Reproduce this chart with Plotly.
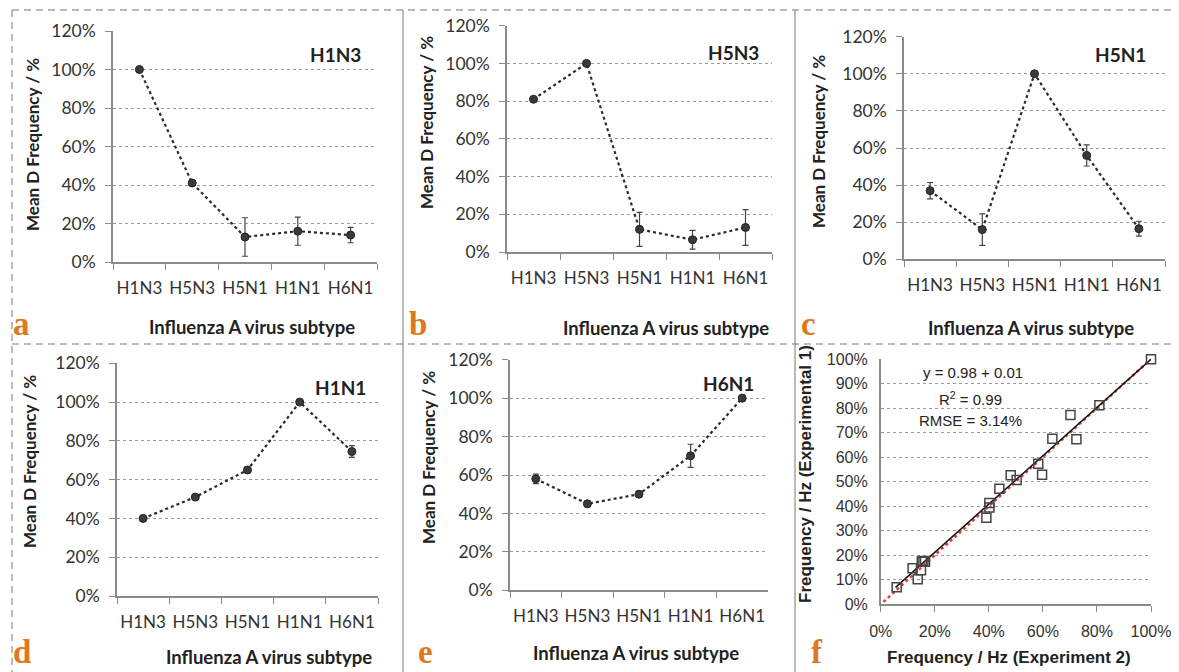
import plotly.graph_objects as go

# the page places the figure 8 px from the top-left corner of the window
OFF = 8
W, H = 1179 - OFF, 672 - OFF

categories = ["H1N3", "H5N3", "H5N1", "H1N1", "H6N1"]

a_vals = [100, 41, 13, 16, 14]
a_err = [1, 1.2, 10, 7.3, 4]
b_vals = [81, 100, 12, 6.5, 13]
b_err = [1, 1, 9, 5, 9.5]
c_vals = [37, 16, 100, 56, 16.5]
c_err = [4.4, 8.5, 1, 5.7, 4]
d_vals = [40, 51, 65, 100, 74.5]
d_err = [1.5, 1, 1.5, 1, 3]
e_vals = [58, 45, 50, 70, 100]
e_err = [2.5, 1.5, 1.5, 6, 1.5]

panel_titles = ["H1N3", "H5N3", "H5N1", "H1N1", "H6N1"]
panel_letters = ["a", "b", "c", "d", "e", "f"]
y_ticks = [0, 20, 40, 60, 80, 100, 120]

f_x = [100, 80.9, 70.2, 72.4, 63.5, 58.3, 59.7, 48.1, 50.3, 43.9, 40.2, 40.2, 39.1,
       15.8, 15.2, 16.4, 11.8, 14.9, 13.7, 5.9]
f_y = [99.9, 81.1, 77.2, 67.3, 67.5, 57.3, 52.8, 52.6, 50.7, 47.1, 41.3, 39.5, 35.3,
       17.7, 17.4, 17.3, 14.7, 13.9, 10.2, 6.9]
fit_x = [5.5, 100]
fit_y = [6.9, 99.9]
ident_x = [1, 100]
ident_y = [1, 100]
f_ticks = [0, 20, 40, 60, 80, 100]
f_yticks = [0, 10, 20, 30, 40, 50, 60, 70, 80, 90, 100]
f_text = ["y = 0.98 + 0.01", "R<sup>2</sup> = 0.99", "RMSE = 3.14%"]

# pixel geometry in window coordinates: (x0, x1, ytop, ybottom)
boxes = [
    (113, 377, 31, 262),
    (507, 772, 25.7, 252),
    (904, 1165, 36.7, 259.3),
    (117, 378, 363.3, 596),
    (510, 768, 359.7, 590.3),
    (880.7, 1151, 359, 604.3),
]

def px(x):
    return (x - OFF) / W

def py(y):
    return 1 - (y - OFF) / H

def pct(vals):
    return [f"{v}%" for v in vals]

FONT = "Lato, 'Open Sans', sans-serif"
AFONT = "'Liberation Sans', Arial, sans-serif"
AX = "#8a8a8a"
TXT = "#333333"

fig = go.Figure()
series = [(a_vals, a_err), (b_vals, b_err), (c_vals, c_err), (d_vals, d_err), (e_vals, e_err)]
layout = {}
for i, (vals, err) in enumerate(series):
    n = "" if i == 0 else str(i + 1)
    fig.add_trace(go.Scatter(
        x=categories, y=vals, xaxis="x" + n, yaxis="y" + n,
        mode="lines+markers",
        line=dict(color="#2a2a2a", width=2.2, dash="dot"),
        marker=dict(symbol="circle", size=8, color="#3a3a3a",
                    line=dict(color="#222", width=1)),
        error_y=dict(type="data", array=err, visible=True, color="#444",
                     thickness=1.2, width=3),
        cliponaxis=False, showlegend=False,
    ))
    x0, x1, yt, yb = boxes[i]
    layout["xaxis" + n] = dict(
        domain=[px(x0), px(x1)], anchor="y" + n, type="category",
        categoryorder="array", categoryarray=categories, automargin=False,
        range=[-0.5, 4.5], showline=True, linecolor=AX, linewidth=1.5,
        ticks="outside", ticklen=6, tickcolor=AX, tickson="boundaries",
        showgrid=False, zeroline=False, ticklabelstandoff=10, tickangle=0,
        tickfont=dict(family=FONT, size=17, color=TXT), fixedrange=True,
    )
    layout["yaxis" + n] = dict(
        domain=[py(yb), py(yt)], anchor="x" + n, range=[0, 120], automargin=False,
        tickmode="array", tickvals=y_ticks, ticktext=pct(y_ticks),
        showline=True, linecolor=AX,
        linewidth=1.5, ticks="outside", ticklen=6, tickcolor=AX,
        showgrid=True, gridcolor="#9a9a9a", griddash="dot", gridwidth=1,
        zeroline=False, ticklabelstandoff=6,
        tickfont=dict(family=FONT, size=17.5, color=TXT), fixedrange=True,
    )

# panel f
fig.add_trace(go.Scatter(x=ident_x, y=ident_y, xaxis="x6", yaxis="y6", mode="lines",
                         line=dict(color="#e0403a", width=2.5, dash="dot"),
                         showlegend=False, cliponaxis=False))
fig.add_trace(go.Scatter(x=fit_x, y=fit_y, xaxis="x6", yaxis="y6", mode="lines",
                         line=dict(color="#111111", width=1.5),
                         showlegend=False, cliponaxis=False))
fig.add_trace(go.Scatter(x=f_x, y=f_y, xaxis="x6", yaxis="y6", mode="markers",
                         marker=dict(symbol="square-open", size=9, color="#444",
                                     line=dict(width=1.5)),
                         showlegend=False, cliponaxis=False))
x0, x1, yt, yb = boxes[5]
layout["xaxis6"] = dict(
    domain=[px(x0), px(x1)], anchor="y6", range=[0, 100], automargin=False,
    tickmode="array", tickvals=f_ticks, ticktext=pct(f_ticks),
    showline=True, linecolor=AX, linewidth=1.5, ticks="outside", tickangle=0,
    ticklen=6, tickcolor=AX, showgrid=False, zeroline=False, ticklabelstandoff=6,
    tickfont=dict(family=AFONT, size=16, color=TXT), fixedrange=True,
)
layout["yaxis6"] = dict(
    domain=[py(yb), py(yt)], anchor="x6", range=[0, 100], automargin=False,
    tickmode="array", tickvals=f_yticks, ticktext=pct(f_yticks),
    showline=True, linecolor=AX, linewidth=1.5, ticks="",
    showgrid=True, gridcolor="#9a9a9a", griddash="dot", gridwidth=1,
    zeroline=False, ticklabelstandoff=8,
    tickfont=dict(family=AFONT, size=16, color=TXT), fixedrange=True,
)

ann = []

def add_text(text, x, y, size, family, color="#222", angle=0):
    ann.append(dict(text=text, x=px(x), y=py(y), xref="paper", yref="paper",
                    xanchor="center", yanchor="middle", textangle=angle,
                    showarrow=False, font=dict(family=family, size=size, color=color)))

title_pos = [(335, 55), (733, 52), (1120, 55), (340, 387), (728, 383)]
for t, (x, y) in zip(panel_titles, title_pos):
    add_text("<b>" + t + "</b>", x, y, 19, FONT)
xt_pos = [(252, 327), (666, 328), (1031, 328), (269, 657), (636, 653)]
for x, y in xt_pos:
    add_text("<b>Influenza A virus subtype</b>", x, y, 18.5, FONT)
yt_pos = [(32, 145), (427, 123), (818, 142), (30, 462), (428, 458)]
for x, y in yt_pos:
    add_text("<b>Mean D Frequency / %</b>", x, y, 17, FONT, angle=-90)
add_text("<b>Frequency / Hz (Experiment 2)</b>", 1009, 657, 17, AFONT)
add_text("<b>Frequency / Hz (Experimental 1)</b>", 806, 474, 17, AFONT, angle=-90)
for t, (x, y) in zip(f_text, [(973, 373), (970, 398), (970, 420)]):
    add_text(t, x, y, 15, AFONT)
letter_pos = [(22, 324), (418, 324), (808, 324), (22, 652), (425, 652), (817, 652)]
for t, (x, y) in zip(panel_letters, letter_pos):
    add_text("<b>" + t + "</b>", x, y, 33, "'Liberation Serif', 'DejaVu Serif', serif",
             color="#e07820")

dash = "7px,5px"
shapes = [
    dict(type="line", xref="paper", yref="paper", x0=px(12), x1=1, y0=py(10), y1=py(10),
         line=dict(color="#777", width=1, dash=dash)),
    dict(type="line", xref="paper", yref="paper", x0=px(12), x1=px(12), y0=py(10), y1=0,
         line=dict(color="#777", width=1, dash=dash)),
    dict(type="line", xref="paper", yref="paper", x0=px(12), x1=1, y0=py(344), y1=py(344),
         line=dict(color="#777", width=1, dash=dash)),
    dict(type="line", xref="paper", yref="paper", x0=px(403), x1=px(403), y0=py(10), y1=0,
         line=dict(color="#777", width=1)),
    dict(type="line", xref="paper", yref="paper", x0=px(795), x1=px(795), y0=py(10), y1=0,
         line=dict(color="#777", width=1)),
]

fig.update_layout(
    width=W, height=H, margin=dict(l=0, r=0, t=0, b=0, autoexpand=False),
    paper_bgcolor="white", plot_bgcolor="white",
    annotations=ann, shapes=shapes, showlegend=False, **layout,
)
fig.write_html("out.html")
